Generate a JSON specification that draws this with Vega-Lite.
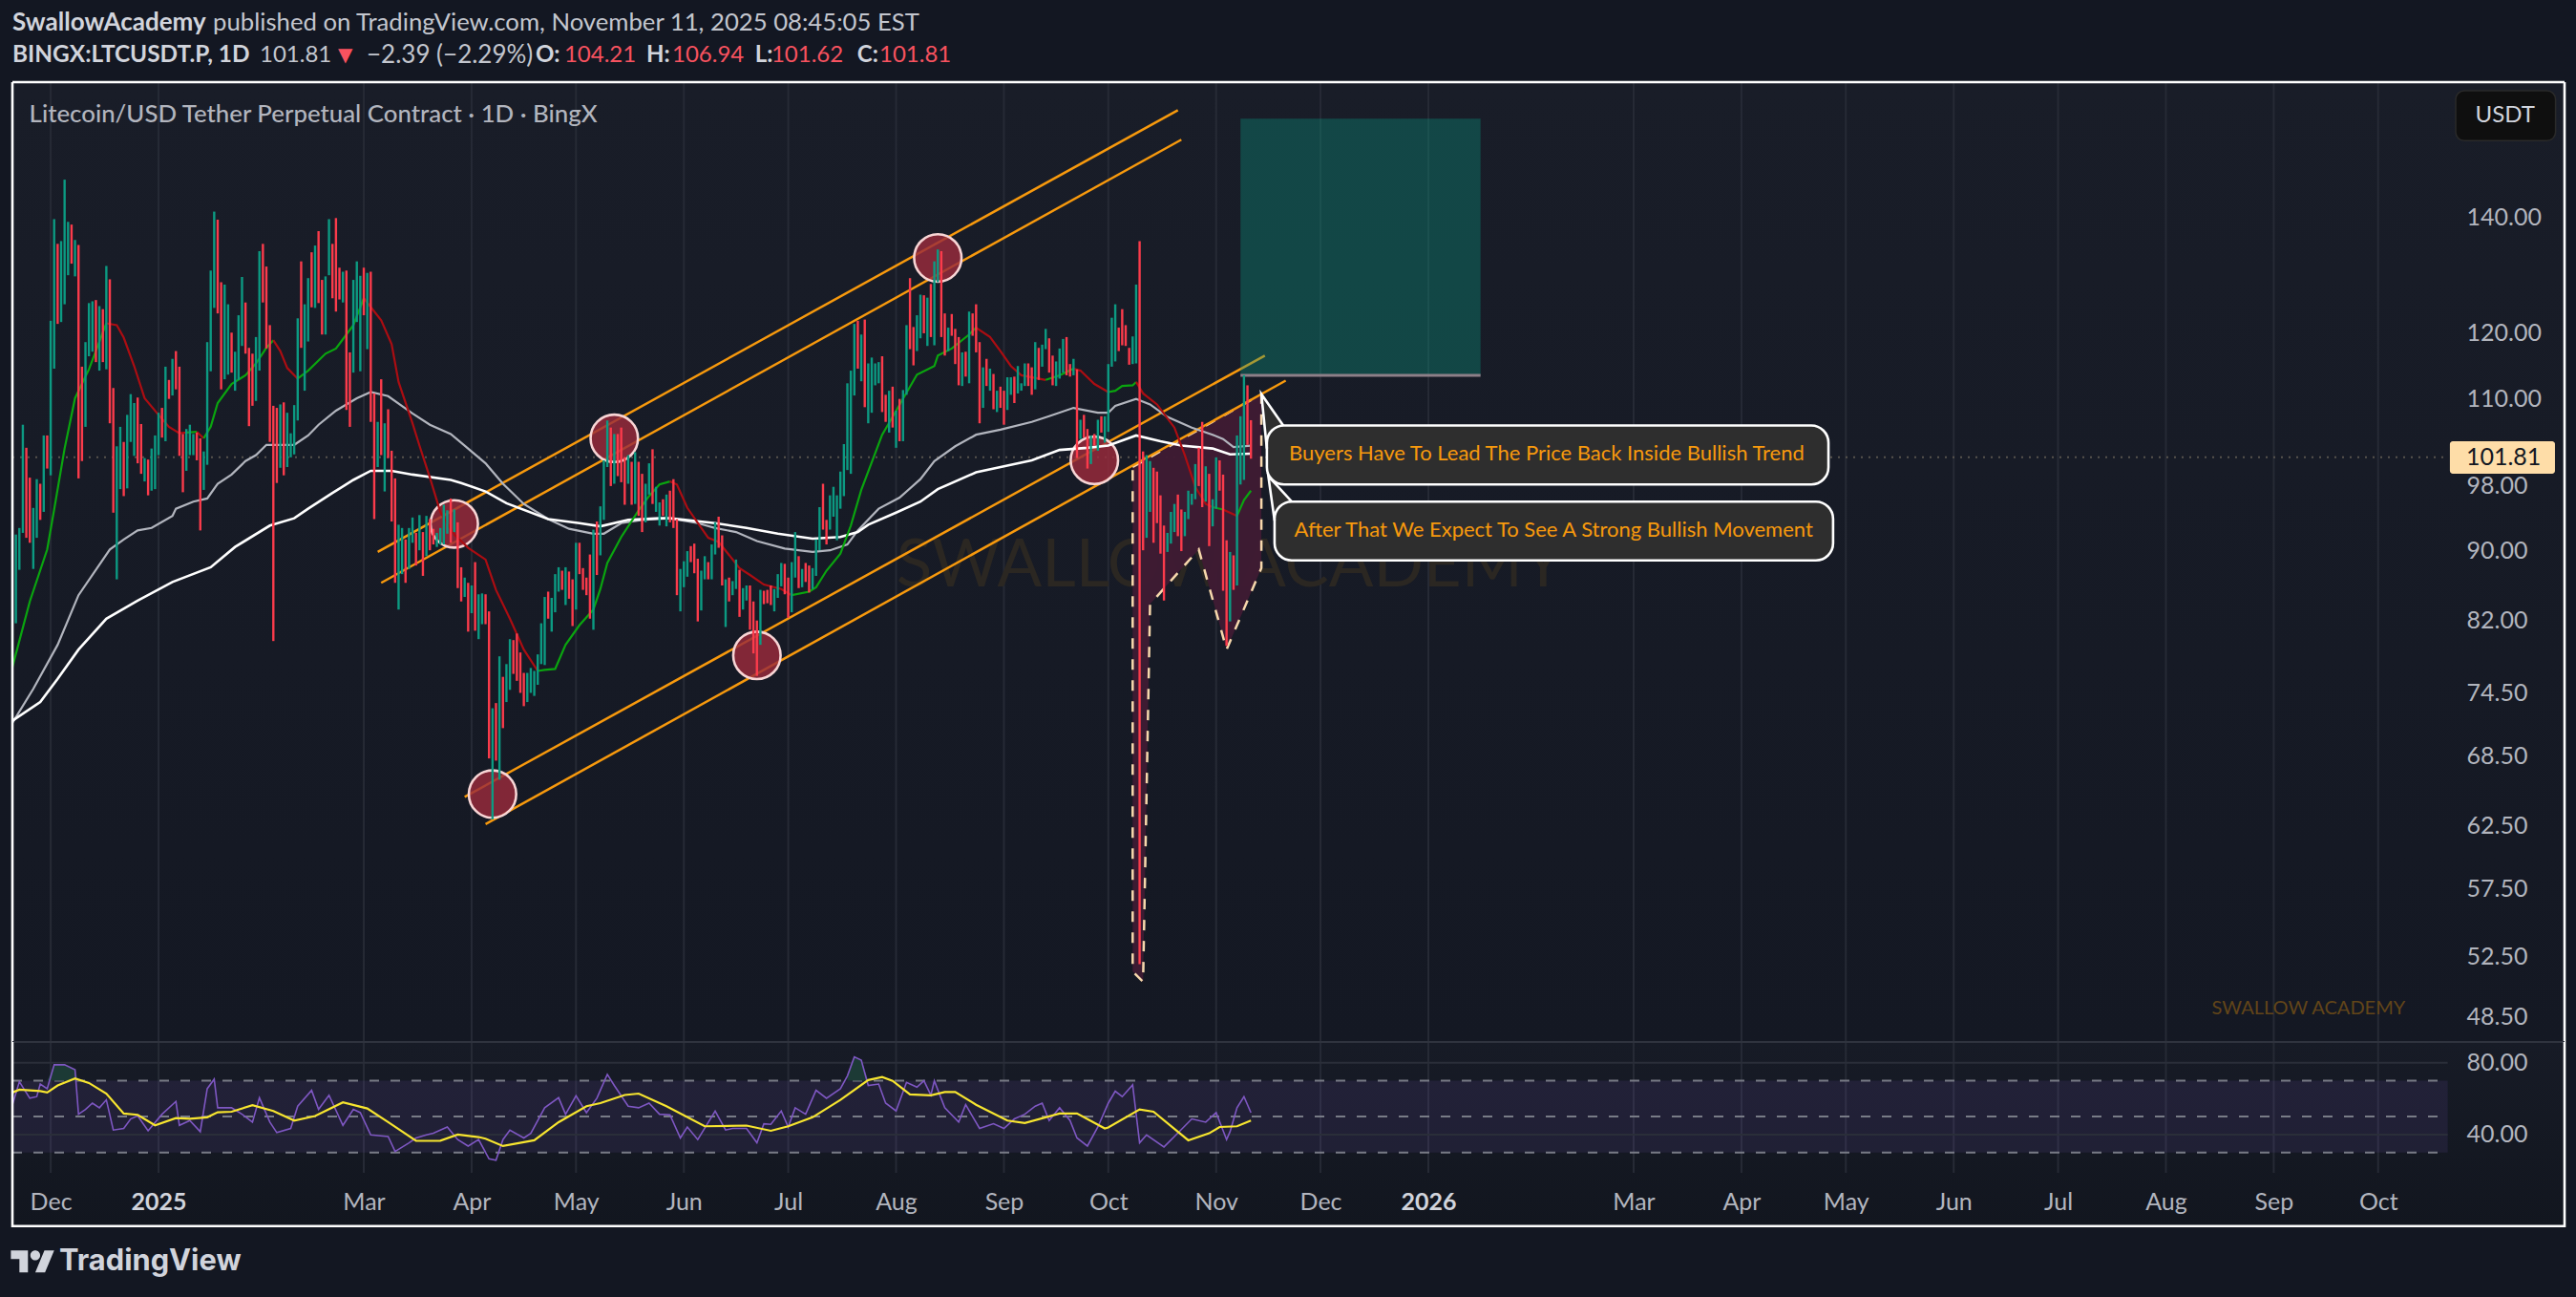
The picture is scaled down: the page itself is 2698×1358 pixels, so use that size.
{
  "$schema": "https://vega.github.io/schema/vega-lite/v6.json",
  "description": "LTCUSDT.P daily chart with RSI pane, rebuilt from a TradingView snapshot",
  "background": "#131722",
  "padding": {"left": 7, "right": 18, "top": 0, "bottom": 0},
  "spacing": 0,
  "bounds": "flush",
  "config": {
    "font": "Lato",
    "view": {"stroke": null},
    "axis": {"disable": true},
    "text": {"font": "Lato"}
  },
  "datasets": {
    "candles": [
      {"date":"2024-11-21","low":81.7,"high":91.9,"dir":"up"},{"date":"2024-11-22","low":87.7,"high":92.7,"dir":"up"},{"date":"2024-11-23","low":92.1,"high":106.3,"dir":"up"},{"date":"2024-11-24","low":91.5,"high":103.1,"dir":"down"},{"date":"2024-11-25","low":90.9,"high":99.1,"dir":"down"},{"date":"2024-11-26","low":87.8,"high":95.2,"dir":"up"},{"date":"2024-11-27","low":91.5,"high":98.9,"dir":"up"},{"date":"2024-11-28","low":93.7,"high":98.3,"dir":"down"},{"date":"2024-11-29","low":94.7,"high":104.8,"dir":"up"},{"date":"2024-11-30","low":100.3,"high":104.8,"dir":"down"},
      {"date":"2024-12-01","low":99.4,"high":122.0,"dir":"up"},{"date":"2024-12-02","low":114.5,"high":139.6,"dir":"up"},{"date":"2024-12-03","low":121.5,"high":135.1,"dir":"down"},{"date":"2024-12-04","low":121.8,"high":135.6,"dir":"up"},{"date":"2024-12-05","low":124.7,"high":147.1,"dir":"up"},{"date":"2024-12-06","low":129.6,"high":139.1,"dir":"up"},{"date":"2024-12-07","low":131.6,"high":138.6,"dir":"down"},{"date":"2024-12-08","low":129.4,"high":135.8,"dir":"up"},{"date":"2024-12-09","low":99.0,"high":134.9,"dir":"down"},{"date":"2024-12-10","low":101.3,"high":114.8,"dir":"down"},
      {"date":"2024-12-11","low":106.0,"high":118.6,"dir":"up"},{"date":"2024-12-12","low":116.4,"high":124.9,"dir":"up"},{"date":"2024-12-13","low":117.1,"high":125.2,"dir":"up"},{"date":"2024-12-14","low":115.5,"high":125.4,"dir":"down"},{"date":"2024-12-15","low":114.2,"high":124.4,"dir":"up"},{"date":"2024-12-16","low":115.5,"high":123.9,"dir":"down"},{"date":"2024-12-17","low":114.4,"high":131.2,"dir":"up"},{"date":"2024-12-18","low":106.5,"high":128.9,"dir":"down"},{"date":"2024-12-19","low":94.6,"high":111.6,"dir":"down"},{"date":"2024-12-20","low":86.6,"high":103.3,"dir":"up"},
      {"date":"2024-12-21","low":97.6,"high":106.0,"dir":"up"},{"date":"2024-12-22","low":96.7,"high":103.9,"dir":"down"},{"date":"2024-12-23","low":97.7,"high":107.7,"dir":"up"},{"date":"2024-12-24","low":103.9,"high":110.7,"dir":"up"},{"date":"2024-12-25","low":102.0,"high":109.4,"dir":"up"},{"date":"2024-12-26","low":101.0,"high":110.2,"dir":"down"},{"date":"2024-12-27","low":99.6,"high":106.4,"dir":"down"},{"date":"2024-12-28","low":98.6,"high":101.7,"dir":"up"},{"date":"2024-12-29","low":96.8,"high":101.5,"dir":"down"},{"date":"2024-12-30","low":97.4,"high":103.0,"dir":"up"},{"date":"2024-12-31","low":97.6,"high":104.8,"dir":"up"},
      {"date":"2025-01-01","low":102.1,"high":108.0,"dir":"up"},{"date":"2025-01-02","low":104.5,"high":108.7,"dir":"down"},{"date":"2025-01-03","low":104.0,"high":114.8,"dir":"up"},{"date":"2025-01-04","low":110.0,"high":112.8,"dir":"down"},{"date":"2025-01-05","low":110.5,"high":116.0,"dir":"up"},{"date":"2025-01-06","low":111.4,"high":117.2,"dir":"down"},{"date":"2025-01-07","low":102.0,"high":114.8,"dir":"down"},{"date":"2025-01-08","low":97.2,"high":105.0,"dir":"down"},{"date":"2025-01-09","low":100.0,"high":105.7,"dir":"up"},{"date":"2025-01-10","low":102.1,"high":106.3,"dir":"up"},
      {"date":"2025-01-11","low":102.1,"high":105.0,"dir":"up"},{"date":"2025-01-12","low":101.4,"high":105.2,"dir":"down"},{"date":"2025-01-13","low":92.4,"high":104.4,"dir":"down"},{"date":"2025-01-14","low":97.5,"high":102.6,"dir":"up"},{"date":"2025-01-15","low":100.8,"high":118.6,"dir":"up"},{"date":"2025-01-16","low":114.1,"high":130.4,"dir":"up"},{"date":"2025-01-17","low":124.1,"high":141.0,"dir":"up"},{"date":"2025-01-18","low":123.2,"high":139.5,"dir":"down"},{"date":"2025-01-19","low":111.4,"high":128.4,"dir":"down"},{"date":"2025-01-20","low":112.9,"high":128.0,"dir":"up"},
      {"date":"2025-01-21","low":113.6,"high":124.7,"dir":"up"},{"date":"2025-01-22","low":113.9,"high":120.1,"dir":"down"},{"date":"2025-01-23","low":111.2,"high":117.1,"dir":"up"},{"date":"2025-01-24","low":112.8,"high":122.9,"dir":"up"},{"date":"2025-01-25","low":118.0,"high":129.3,"dir":"up"},{"date":"2025-01-26","low":116.8,"high":125.0,"dir":"down"},{"date":"2025-01-27","low":106.1,"high":117.7,"dir":"down"},{"date":"2025-01-28","low":109.0,"high":116.8,"dir":"down"},{"date":"2025-01-29","low":109.7,"high":119.4,"dir":"up"},{"date":"2025-01-30","low":114.2,"high":133.8,"dir":"up"},{"date":"2025-01-31","low":125.0,"high":135.1,"dir":"down"},
      {"date":"2025-02-01","low":117.6,"high":131.1,"dir":"down"},{"date":"2025-02-02","low":103.9,"high":121.3,"dir":"down"},{"date":"2025-02-03","low":79.8,"high":109.0,"dir":"down"},{"date":"2025-02-04","low":98.4,"high":108.7,"dir":"down"},{"date":"2025-02-05","low":100.4,"high":109.2,"dir":"up"},{"date":"2025-02-06","low":99.4,"high":109.5,"dir":"down"},{"date":"2025-02-07","low":100.5,"high":108.0,"dir":"up"},{"date":"2025-02-08","low":101.8,"high":105.1,"dir":"up"},{"date":"2025-02-09","low":102.2,"high":109.1,"dir":"up"},{"date":"2025-02-10","low":106.9,"high":122.4,"dir":"up"},
      {"date":"2025-02-11","low":117.7,"high":132.0,"dir":"down"},{"date":"2025-02-12","low":111.2,"high":124.7,"dir":"up"},{"date":"2025-02-13","low":118.7,"high":129.1,"dir":"up"},{"date":"2025-02-14","low":124.2,"high":133.6,"dir":"down"},{"date":"2025-02-15","low":124.1,"high":134.8,"dir":"up"},{"date":"2025-02-16","low":124.9,"high":137.4,"dir":"down"},{"date":"2025-02-17","low":119.8,"high":128.8,"dir":"down"},{"date":"2025-02-18","low":119.8,"high":129.4,"dir":"up"},{"date":"2025-02-19","low":129.6,"high":139.6,"dir":"up"},{"date":"2025-02-20","low":125.7,"high":135.1,"dir":"down"},
      {"date":"2025-02-21","low":123.5,"high":139.8,"dir":"down"},{"date":"2025-02-22","low":125.5,"high":130.9,"dir":"down"},{"date":"2025-02-23","low":125.0,"high":130.2,"dir":"up"},{"date":"2025-02-24","low":108.4,"high":130.4,"dir":"down"},{"date":"2025-02-25","low":106.0,"high":117.0,"dir":"down"},{"date":"2025-02-26","low":113.9,"high":128.8,"dir":"up"},{"date":"2025-02-27","low":121.8,"high":132.0,"dir":"up"},{"date":"2025-02-28","low":114.1,"high":129.5,"dir":"up"},
      {"date":"2025-03-01","low":122.9,"high":130.9,"dir":"down"},{"date":"2025-03-02","low":117.5,"high":130.0,"dir":"up"},{"date":"2025-03-03","low":106.7,"high":130.2,"dir":"down"},{"date":"2025-03-04","low":93.8,"high":110.8,"dir":"down"},{"date":"2025-03-05","low":100.5,"high":106.7,"dir":"up"},{"date":"2025-03-06","low":102.1,"high":112.9,"dir":"down"},{"date":"2025-03-07","low":97.3,"high":106.5,"dir":"up"},{"date":"2025-03-08","low":101.7,"high":108.5,"dir":"down"},{"date":"2025-03-09","low":93.5,"high":102.7,"dir":"down"},{"date":"2025-03-10","low":86.2,"high":99.0,"dir":"down"},
      {"date":"2025-03-11","low":83.2,"high":93.1,"dir":"up"},{"date":"2025-03-12","low":87.2,"high":92.7,"dir":"up"},{"date":"2025-03-13","low":86.2,"high":91.3,"dir":"down"},{"date":"2025-03-14","low":87.8,"high":92.7,"dir":"up"},{"date":"2025-03-15","low":90.9,"high":94.0,"dir":"up"},{"date":"2025-03-16","low":88.2,"high":92.1,"dir":"down"},{"date":"2025-03-17","low":90.0,"high":94.3,"dir":"up"},{"date":"2025-03-18","low":87.0,"high":92.2,"dir":"down"},{"date":"2025-03-19","low":89.3,"high":94.2,"dir":"up"},{"date":"2025-03-20","low":90.0,"high":93.8,"dir":"down"},
      {"date":"2025-03-21","low":90.7,"high":92.6,"dir":"down"},{"date":"2025-03-22","low":90.4,"high":92.1,"dir":"up"},{"date":"2025-03-23","low":90.7,"high":92.7,"dir":"up"},{"date":"2025-03-24","low":90.7,"high":95.6,"dir":"up"},{"date":"2025-03-25","low":92.0,"high":94.9,"dir":"up"},{"date":"2025-03-26","low":90.9,"high":96.4,"dir":"down"},{"date":"2025-03-27","low":92.2,"high":95.0,"dir":"up"},{"date":"2025-03-28","low":85.6,"high":93.4,"dir":"down"},{"date":"2025-03-29","low":84.1,"high":88.0,"dir":"down"},{"date":"2025-03-30","low":84.6,"high":86.8,"dir":"up"},{"date":"2025-03-31","low":80.8,"high":86.2,"dir":"down"},
      {"date":"2025-04-01","low":82.8,"high":85.9,"dir":"up"},{"date":"2025-04-02","low":80.9,"high":88.6,"dir":"down"},{"date":"2025-04-03","low":80.0,"high":84.9,"dir":"up"},{"date":"2025-04-04","low":81.6,"high":85.0,"dir":"up"},{"date":"2025-04-05","low":81.6,"high":84.9,"dir":"down"},{"date":"2025-04-06","low":68.3,"high":83.0,"dir":"down"},{"date":"2025-04-07","low":63.0,"high":73.0,"dir":"up"},{"date":"2025-04-08","low":68.1,"high":73.5,"dir":"down"},{"date":"2025-04-09","low":66.4,"high":78.2,"dir":"up"},{"date":"2025-04-10","low":71.1,"high":76.1,"dir":"down"},
      {"date":"2025-04-11","low":73.6,"high":77.4,"dir":"up"},{"date":"2025-04-12","low":74.8,"high":80.0,"dir":"up"},{"date":"2025-04-13","low":76.4,"high":79.9,"dir":"down"},{"date":"2025-04-14","low":75.7,"high":80.6,"dir":"down"},{"date":"2025-04-15","low":74.5,"high":78.6,"dir":"down"},{"date":"2025-04-16","low":73.2,"high":76.5,"dir":"down"},{"date":"2025-04-17","low":73.6,"high":76.5,"dir":"up"},{"date":"2025-04-18","low":74.5,"high":77.0,"dir":"up"},{"date":"2025-04-19","low":74.2,"high":76.7,"dir":"up"},{"date":"2025-04-20","low":75.3,"high":78.4,"dir":"up"},
      {"date":"2025-04-21","low":77.4,"high":81.7,"dir":"up"},{"date":"2025-04-22","low":77.3,"high":84.6,"dir":"up"},{"date":"2025-04-23","low":82.2,"high":85.2,"dir":"down"},{"date":"2025-04-24","low":80.8,"high":84.5,"dir":"up"},{"date":"2025-04-25","low":82.9,"high":87.2,"dir":"up"},{"date":"2025-04-26","low":85.2,"high":88.0,"dir":"up"},{"date":"2025-04-27","low":85.4,"high":87.6,"dir":"down"},{"date":"2025-04-28","low":83.7,"high":88.0,"dir":"up"},{"date":"2025-04-29","low":84.4,"high":87.5,"dir":"down"},{"date":"2025-04-30","low":81.4,"high":86.6,"dir":"down"},
      {"date":"2025-05-01","low":83.2,"high":90.9,"dir":"up"},{"date":"2025-05-02","low":87.2,"high":90.9,"dir":"down"},{"date":"2025-05-03","low":85.4,"high":87.9,"dir":"down"},{"date":"2025-05-04","low":84.8,"high":86.8,"dir":"down"},{"date":"2025-05-05","low":82.2,"high":89.5,"dir":"down"},{"date":"2025-05-06","low":81.0,"high":92.5,"dir":"up"},{"date":"2025-05-07","low":87.1,"high":93.5,"dir":"down"},{"date":"2025-05-08","low":89.4,"high":95.4,"dir":"up"},{"date":"2025-05-09","low":93.7,"high":101.4,"dir":"up"},{"date":"2025-05-10","low":100.5,"high":106.9,"dir":"up"},
      {"date":"2025-05-11","low":98.0,"high":105.9,"dir":"down"},{"date":"2025-05-12","low":98.3,"high":105.0,"dir":"up"},{"date":"2025-05-13","low":99.3,"high":105.0,"dir":"down"},{"date":"2025-05-14","low":98.5,"high":105.9,"dir":"down"},{"date":"2025-05-15","low":95.6,"high":101.8,"dir":"down"},{"date":"2025-05-16","low":98.3,"high":102.1,"dir":"up"},{"date":"2025-05-17","low":95.6,"high":101.2,"dir":"down"},{"date":"2025-05-18","low":95.7,"high":102.5,"dir":"up"},{"date":"2025-05-19","low":94.2,"high":101.2,"dir":"down"},{"date":"2025-05-20","low":92.2,"high":99.6,"dir":"down"},
      {"date":"2025-05-21","low":93.4,"high":98.3,"dir":"up"},{"date":"2025-05-22","low":96.9,"high":101.0,"dir":"up"},{"date":"2025-05-23","low":95.7,"high":102.9,"dir":"down"},{"date":"2025-05-24","low":94.7,"high":97.9,"dir":"up"},{"date":"2025-05-25","low":93.0,"high":95.9,"dir":"up"},{"date":"2025-05-26","low":94.2,"high":96.3,"dir":"down"},{"date":"2025-05-27","low":92.9,"high":96.9,"dir":"up"},{"date":"2025-05-28","low":93.4,"high":97.4,"dir":"down"},{"date":"2025-05-29","low":92.7,"high":98.9,"dir":"down"},{"date":"2025-05-30","low":84.8,"high":93.8,"dir":"down"},{"date":"2025-05-31","low":83.0,"high":87.8,"dir":"up"},
      {"date":"2025-06-01","low":85.7,"high":88.7,"dir":"up"},{"date":"2025-06-02","low":86.9,"high":89.9,"dir":"up"},{"date":"2025-06-03","low":88.6,"high":90.5,"dir":"down"},{"date":"2025-06-04","low":87.3,"high":90.8,"dir":"down"},{"date":"2025-06-05","low":81.9,"high":89.0,"dir":"down"},{"date":"2025-06-06","low":83.1,"high":87.6,"dir":"up"},{"date":"2025-06-07","low":86.6,"high":89.3,"dir":"up"},{"date":"2025-06-08","low":86.6,"high":88.6,"dir":"down"},{"date":"2025-06-09","low":86.6,"high":90.7,"dir":"up"},{"date":"2025-06-10","low":89.5,"high":93.4,"dir":"up"},
      {"date":"2025-06-11","low":90.3,"high":94.1,"dir":"down"},{"date":"2025-06-12","low":85.9,"high":91.8,"dir":"down"},{"date":"2025-06-13","low":81.3,"high":86.6,"dir":"up"},{"date":"2025-06-14","low":84.1,"high":86.8,"dir":"down"},{"date":"2025-06-15","low":84.8,"high":86.4,"dir":"up"},{"date":"2025-06-16","low":85.5,"high":88.9,"dir":"up"},{"date":"2025-06-17","low":82.4,"high":87.7,"dir":"down"},{"date":"2025-06-18","low":83.2,"high":85.6,"dir":"up"},{"date":"2025-06-19","low":84.2,"high":85.9,"dir":"up"},{"date":"2025-06-20","low":81.0,"high":85.9,"dir":"down"},
      {"date":"2025-06-21","low":78.5,"high":84.1,"dir":"down"},{"date":"2025-06-22","low":76.2,"high":82.0,"dir":"down"},{"date":"2025-06-23","low":79.4,"high":85.4,"dir":"up"},{"date":"2025-06-24","low":83.8,"high":85.3,"dir":"down"},{"date":"2025-06-25","low":83.9,"high":85.4,"dir":"down"},{"date":"2025-06-26","low":83.7,"high":85.9,"dir":"down"},{"date":"2025-06-27","low":83.0,"high":85.5,"dir":"up"},{"date":"2025-06-28","low":84.5,"high":87.2,"dir":"up"},{"date":"2025-06-29","low":85.8,"high":88.5,"dir":"up"},{"date":"2025-06-30","low":84.9,"high":88.4,"dir":"down"},
      {"date":"2025-07-01","low":82.3,"high":86.8,"dir":"down"},{"date":"2025-07-02","low":82.9,"high":88.6,"dir":"up"},{"date":"2025-07-03","low":86.8,"high":92.2,"dir":"up"},{"date":"2025-07-04","low":85.6,"high":89.3,"dir":"down"},{"date":"2025-07-05","low":85.7,"high":87.8,"dir":"up"},{"date":"2025-07-06","low":86.3,"high":88.5,"dir":"down"},{"date":"2025-07-07","low":85.1,"high":88.2,"dir":"down"},{"date":"2025-07-08","low":85.5,"high":87.9,"dir":"up"},{"date":"2025-07-09","low":87.0,"high":91.3,"dir":"up"},{"date":"2025-07-10","low":90.0,"high":95.3,"dir":"up"},
      {"date":"2025-07-11","low":92.5,"high":98.3,"dir":"down"},{"date":"2025-07-12","low":90.7,"high":93.7,"dir":"down"},{"date":"2025-07-13","low":92.5,"high":96.8,"dir":"up"},{"date":"2025-07-14","low":94.1,"high":97.9,"dir":"up"},{"date":"2025-07-15","low":91.2,"high":96.8,"dir":"up"},{"date":"2025-07-16","low":95.1,"high":99.9,"dir":"up"},{"date":"2025-07-17","low":96.7,"high":103.6,"dir":"up"},{"date":"2025-07-18","low":100.1,"high":112.3,"dir":"up"},{"date":"2025-07-19","low":99.6,"high":114.2,"dir":"up"},{"date":"2025-07-20","low":110.5,"high":121.5,"dir":"up"},
      {"date":"2025-07-21","low":114.5,"high":122.0,"dir":"down"},{"date":"2025-07-22","low":112.6,"high":119.8,"dir":"up"},{"date":"2025-07-23","low":108.8,"high":122.2,"dir":"down"},{"date":"2025-07-24","low":106.5,"high":115.3,"dir":"up"},{"date":"2025-07-25","low":108.0,"high":116.2,"dir":"up"},{"date":"2025-07-26","low":112.0,"high":115.3,"dir":"up"},{"date":"2025-07-27","low":112.3,"high":115.5,"dir":"up"},{"date":"2025-07-28","low":108.1,"high":116.4,"dir":"down"},{"date":"2025-07-29","low":106.7,"high":110.6,"dir":"down"},{"date":"2025-07-30","low":105.2,"high":111.2,"dir":"up"},{"date":"2025-07-31","low":105.9,"high":111.8,"dir":"down"},
      {"date":"2025-08-01","low":103.1,"high":108.3,"dir":"up"},{"date":"2025-08-02","low":104.0,"high":110.0,"dir":"down"},{"date":"2025-08-03","low":104.0,"high":111.3,"dir":"up"},{"date":"2025-08-04","low":110.6,"high":121.3,"dir":"up"},{"date":"2025-08-05","low":117.5,"high":129.1,"dir":"down"},{"date":"2025-08-06","low":115.0,"high":121.0,"dir":"down"},{"date":"2025-08-07","low":117.2,"high":122.9,"dir":"up"},{"date":"2025-08-08","low":119.2,"high":126.3,"dir":"up"},{"date":"2025-08-09","low":120.0,"high":126.2,"dir":"down"},{"date":"2025-08-10","low":118.0,"high":125.8,"dir":"up"},
      {"date":"2025-08-11","low":119.4,"high":128.1,"dir":"down"},{"date":"2025-08-12","low":118.1,"high":132.0,"dir":"up"},{"date":"2025-08-13","low":128.4,"high":134.1,"dir":"up"},{"date":"2025-08-14","low":119.4,"high":133.8,"dir":"down"},{"date":"2025-08-15","low":116.5,"high":123.2,"dir":"down"},{"date":"2025-08-16","low":117.2,"high":120.9,"dir":"up"},{"date":"2025-08-17","low":119.6,"high":123.1,"dir":"down"},{"date":"2025-08-18","low":115.2,"high":120.7,"dir":"down"},{"date":"2025-08-19","low":112.0,"high":119.4,"dir":"down"},{"date":"2025-08-20","low":111.9,"high":117.0,"dir":"up"},
      {"date":"2025-08-21","low":113.3,"high":117.1,"dir":"down"},{"date":"2025-08-22","low":112.3,"high":123.5,"dir":"up"},{"date":"2025-08-23","low":119.6,"high":123.2,"dir":"down"},{"date":"2025-08-24","low":117.0,"high":124.7,"dir":"down"},{"date":"2025-08-25","low":106.5,"high":118.6,"dir":"down"},{"date":"2025-08-26","low":108.7,"high":114.7,"dir":"up"},{"date":"2025-08-27","low":111.9,"high":116.0,"dir":"down"},{"date":"2025-08-28","low":111.2,"high":114.5,"dir":"up"},{"date":"2025-08-29","low":108.5,"high":113.7,"dir":"down"},{"date":"2025-08-30","low":108.1,"high":111.2,"dir":"up"},{"date":"2025-08-31","low":108.7,"high":111.8,"dir":"down"},
      {"date":"2025-09-01","low":106.3,"high":111.2,"dir":"down"},{"date":"2025-09-02","low":108.4,"high":113.2,"dir":"up"},{"date":"2025-09-03","low":110.6,"high":113.2,"dir":"up"},{"date":"2025-09-04","low":109.4,"high":113.3,"dir":"down"},{"date":"2025-09-05","low":110.8,"high":114.9,"dir":"up"},{"date":"2025-09-06","low":111.2,"high":112.3,"dir":"up"},{"date":"2025-09-07","low":111.9,"high":115.3,"dir":"up"},{"date":"2025-09-08","low":111.9,"high":115.3,"dir":"down"},{"date":"2025-09-09","low":110.6,"high":114.7,"dir":"down"},{"date":"2025-09-10","low":111.4,"high":118.6,"dir":"up"},
      {"date":"2025-09-11","low":112.8,"high":117.7,"dir":"down"},{"date":"2025-09-12","low":114.8,"high":118.2,"dir":"up"},{"date":"2025-09-13","low":117.5,"high":120.7,"dir":"up"},{"date":"2025-09-14","low":113.9,"high":119.2,"dir":"down"},{"date":"2025-09-15","low":112.0,"high":116.5,"dir":"down"},{"date":"2025-09-16","low":111.9,"high":115.6,"dir":"up"},{"date":"2025-09-17","low":113.0,"high":117.6,"dir":"up"},{"date":"2025-09-18","low":113.9,"high":119.1,"dir":"up"},{"date":"2025-09-19","low":113.5,"high":119.4,"dir":"down"},{"date":"2025-09-20","low":113.3,"high":115.2,"dir":"down"},
      {"date":"2025-09-21","low":113.5,"high":116.0,"dir":"up"},{"date":"2025-09-22","low":101.7,"high":114.4,"dir":"down"},{"date":"2025-09-23","low":104.3,"high":107.0,"dir":"up"},{"date":"2025-09-24","low":104.5,"high":107.7,"dir":"down"},{"date":"2025-09-25","low":100.3,"high":105.7,"dir":"down"},{"date":"2025-09-26","low":100.9,"high":104.8,"dir":"up"},{"date":"2025-09-27","low":103.4,"high":105.0,"dir":"down"},{"date":"2025-09-28","low":102.7,"high":107.0,"dir":"up"},{"date":"2025-09-29","low":105.2,"high":107.5,"dir":"down"},{"date":"2025-09-30","low":103.8,"high":107.5,"dir":"up"},
      {"date":"2025-10-01","low":105.3,"high":115.2,"dir":"up"},{"date":"2025-10-02","low":114.8,"high":122.5,"dir":"up"},{"date":"2025-10-03","low":115.6,"high":124.7,"dir":"up"},{"date":"2025-10-04","low":117.2,"high":120.9,"dir":"down"},{"date":"2025-10-05","low":118.1,"high":123.9,"dir":"down"},{"date":"2025-10-06","low":118.0,"high":121.3,"dir":"down"},{"date":"2025-10-07","low":115.1,"high":117.7,"dir":"down"},{"date":"2025-10-08","low":115.2,"high":119.5,"dir":"up"},{"date":"2025-10-09","low":115.3,"high":128.0,"dir":"up"},{"date":"2025-10-10","low":52.0,"high":135.6,"dir":"down"},
      {"date":"2025-10-11","low":90.0,"high":102.6,"dir":"down"},{"date":"2025-10-12","low":91.5,"high":102.1,"dir":"up"},{"date":"2025-10-13","low":94.7,"high":101.3,"dir":"up"},{"date":"2025-10-14","low":90.9,"high":100.4,"dir":"down"},{"date":"2025-10-15","low":93.3,"high":99.9,"dir":"down"},{"date":"2025-10-16","low":89.6,"high":96.8,"dir":"down"},{"date":"2025-10-17","low":84.2,"high":93.0,"dir":"down"},{"date":"2025-10-18","low":89.8,"high":92.1,"dir":"up"},{"date":"2025-10-19","low":90.8,"high":94.7,"dir":"up"},{"date":"2025-10-20","low":92.2,"high":95.7,"dir":"up"},
      {"date":"2025-10-21","low":91.7,"high":96.9,"dir":"down"},{"date":"2025-10-22","low":89.9,"high":95.0,"dir":"down"},{"date":"2025-10-23","low":91.7,"high":94.7,"dir":"up"},{"date":"2025-10-24","low":93.8,"high":97.4,"dir":"up"},{"date":"2025-10-25","low":95.6,"high":97.0,"dir":"up"},{"date":"2025-10-26","low":96.3,"high":100.9,"dir":"up"},{"date":"2025-10-27","low":98.0,"high":103.1,"dir":"down"},{"date":"2025-10-28","low":95.3,"high":106.7,"dir":"down"},{"date":"2025-10-29","low":96.0,"high":100.6,"dir":"up"},{"date":"2025-10-30","low":90.5,"high":99.6,"dir":"down"},{"date":"2025-10-31","low":92.9,"high":96.3,"dir":"up"},
      {"date":"2025-11-01","low":95.1,"high":101.8,"dir":"up"},{"date":"2025-11-02","low":97.4,"high":101.4,"dir":"down"},{"date":"2025-11-03","low":85.3,"high":99.5,"dir":"down"},{"date":"2025-11-04","low":79.3,"high":91.2,"dir":"down"},{"date":"2025-11-05","low":81.9,"high":89.8,"dir":"up"},{"date":"2025-11-06","low":85.4,"high":89.4,"dir":"down"},{"date":"2025-11-07","low":85.9,"high":104.8,"dir":"up"},{"date":"2025-11-08","low":98.2,"high":107.5,"dir":"up"},{"date":"2025-11-09","low":98.8,"high":113.5,"dir":"up"},{"date":"2025-11-10","low":103.5,"high":112.0,"dir":"down"},{"date":"2025-11-11","low":101.62,"high":106.94,"dir":"down"}
    ],
    "ema": [
      {"date":"2024-11-20","price":77.1,"seg":1,"dir":"up"},{"date":"2024-11-25","price":84.1,"seg":1,"dir":"up"},{"date":"2024-11-30","price":90.1,"seg":1,"dir":"up"},{"date":"2024-12-02","price":95.0,"seg":1,"dir":"up"},{"date":"2024-12-05","price":103.0,"seg":1,"dir":"up"},{"date":"2024-12-08","price":110.1,"seg":1,"dir":"up"},{"date":"2024-12-12","price":114.4,"seg":1,"dir":"up"},{"date":"2024-12-17","price":121.6,"seg":1,"dir":"up"},
      {"date":"2024-12-17","price":121.6,"seg":2,"dir":"down"},{"date":"2024-12-20","price":121.3,"seg":2,"dir":"down"},{"date":"2024-12-22","price":119.3,"seg":2,"dir":"down"},{"date":"2024-12-25","price":114.9,"seg":2,"dir":"down"},{"date":"2024-12-28","price":110.1,"seg":2,"dir":"down"},{"date":"2025-01-01","price":107.7,"seg":2,"dir":"down"},{"date":"2025-01-04","price":106.0,"seg":2,"dir":"down"},{"date":"2025-01-07","price":105.1,"seg":2,"dir":"down"},{"date":"2025-01-09","price":105.2,"seg":2,"dir":"down"},
      {"date":"2025-01-09","price":105.2,"seg":3,"dir":"up"},{"date":"2025-01-12","price":105.3,"seg":3,"dir":"up"},
      {"date":"2025-01-12","price":105.3,"seg":4,"dir":"down"},{"date":"2025-01-14","price":104.4,"seg":4,"dir":"down"},
      {"date":"2025-01-14","price":104.4,"seg":5,"dir":"up"},{"date":"2025-01-16","price":106.0,"seg":5,"dir":"up"},{"date":"2025-01-18","price":109.4,"seg":5,"dir":"up"},{"date":"2025-01-22","price":112.2,"seg":5,"dir":"up"},{"date":"2025-01-26","price":113.5,"seg":5,"dir":"up"},{"date":"2025-01-29","price":115.3,"seg":5,"dir":"up"},{"date":"2025-02-01","price":117.7,"seg":5,"dir":"up"},{"date":"2025-02-03","price":118.9,"seg":5,"dir":"up"},
      {"date":"2025-02-03","price":118.9,"seg":6,"dir":"down"},{"date":"2025-02-05","price":117.2,"seg":6,"dir":"down"},{"date":"2025-02-07","price":114.6,"seg":6,"dir":"down"},{"date":"2025-02-10","price":113.0,"seg":6,"dir":"down"},
      {"date":"2025-02-10","price":113.0,"seg":7,"dir":"up"},{"date":"2025-02-13","price":114.2,"seg":7,"dir":"up"},{"date":"2025-02-18","price":116.8,"seg":7,"dir":"up"},{"date":"2025-02-21","price":117.6,"seg":7,"dir":"up"},{"date":"2025-02-24","price":119.8,"seg":7,"dir":"up"},{"date":"2025-02-26","price":121.3,"seg":7,"dir":"up"},{"date":"2025-03-01","price":125.7,"seg":7,"dir":"up"},
      {"date":"2025-03-01","price":125.7,"seg":8,"dir":"down"},{"date":"2025-03-06","price":122.1,"seg":8,"dir":"down"},{"date":"2025-03-09","price":118.3,"seg":8,"dir":"down"},{"date":"2025-03-11","price":112.5,"seg":8,"dir":"down"},{"date":"2025-03-15","price":106.5,"seg":8,"dir":"down"},{"date":"2025-03-17","price":103.4,"seg":8,"dir":"down"},{"date":"2025-03-20","price":99.1,"seg":8,"dir":"down"},{"date":"2025-03-23","price":94.7,"seg":8,"dir":"down"},{"date":"2025-03-27","price":91.9,"seg":8,"dir":"down"},{"date":"2025-03-31","price":90.3,"seg":8,"dir":"down"},{"date":"2025-04-05","price":88.9,"seg":8,"dir":"down"},{"date":"2025-04-08","price":85.4,"seg":8,"dir":"down"},{"date":"2025-04-12","price":82.2,"seg":8,"dir":"down"},{"date":"2025-04-16","price":78.9,"seg":8,"dir":"down"},{"date":"2025-04-20","price":76.7,"seg":8,"dir":"down"},
      {"date":"2025-04-20","price":76.7,"seg":9,"dir":"up"},{"date":"2025-04-22","price":76.8,"seg":9,"dir":"up"},{"date":"2025-04-25","price":76.9,"seg":9,"dir":"up"},{"date":"2025-04-28","price":79.4,"seg":9,"dir":"up"},{"date":"2025-05-02","price":81.5,"seg":9,"dir":"up"},{"date":"2025-05-06","price":83.2,"seg":9,"dir":"up"},{"date":"2025-05-08","price":85.5,"seg":9,"dir":"up"},{"date":"2025-05-10","price":88.5,"seg":9,"dir":"up"},{"date":"2025-05-14","price":91.6,"seg":9,"dir":"up"},{"date":"2025-05-19","price":94.9,"seg":9,"dir":"up"},{"date":"2025-05-22","price":96.7,"seg":9,"dir":"up"},{"date":"2025-05-25","price":98.2,"seg":9,"dir":"up"},{"date":"2025-05-28","price":98.6,"seg":9,"dir":"up"},
      {"date":"2025-05-28","price":98.6,"seg":10,"dir":"down"},{"date":"2025-05-30","price":98.2,"seg":10,"dir":"down"},{"date":"2025-06-02","price":95.2,"seg":10,"dir":"down"},{"date":"2025-06-08","price":91.5,"seg":10,"dir":"down"},{"date":"2025-06-11","price":91.0,"seg":10,"dir":"down"},{"date":"2025-06-17","price":87.9,"seg":10,"dir":"down"},{"date":"2025-06-20","price":87.1,"seg":10,"dir":"down"},{"date":"2025-06-24","price":86.0,"seg":10,"dir":"down"},{"date":"2025-06-29","price":85.5,"seg":10,"dir":"down"},{"date":"2025-07-02","price":84.8,"seg":10,"dir":"down"},
      {"date":"2025-07-02","price":84.8,"seg":11,"dir":"up"},{"date":"2025-07-07","price":85.2,"seg":11,"dir":"up"},{"date":"2025-07-09","price":85.7,"seg":11,"dir":"up"},{"date":"2025-07-12","price":87.6,"seg":11,"dir":"up"},{"date":"2025-07-16","price":89.6,"seg":11,"dir":"up"},{"date":"2025-07-19","price":93.0,"seg":11,"dir":"up"},{"date":"2025-07-22","price":97.5,"seg":11,"dir":"up"},{"date":"2025-07-28","price":104.9,"seg":11,"dir":"up"},{"date":"2025-07-31","price":107.4,"seg":11,"dir":"up"},{"date":"2025-08-07","price":113.6,"seg":11,"dir":"up"},{"date":"2025-08-12","price":114.9,"seg":11,"dir":"up"},{"date":"2025-08-13","price":116.5,"seg":11,"dir":"up"},{"date":"2025-08-17","price":117.6,"seg":11,"dir":"up"},{"date":"2025-08-22","price":119.8,"seg":11,"dir":"up"},{"date":"2025-08-24","price":120.9,"seg":11,"dir":"up"},
      {"date":"2025-08-24","price":120.9,"seg":12,"dir":"down"},{"date":"2025-08-28","price":119.4,"seg":12,"dir":"down"},{"date":"2025-08-31","price":117.2,"seg":12,"dir":"down"},{"date":"2025-09-03","price":114.9,"seg":12,"dir":"down"},{"date":"2025-09-06","price":113.5,"seg":12,"dir":"down"},{"date":"2025-09-13","price":112.8,"seg":12,"dir":"down"},
      {"date":"2025-09-13","price":112.8,"seg":13,"dir":"up"},{"date":"2025-09-17","price":113.5,"seg":13,"dir":"up"},{"date":"2025-09-21","price":114.5,"seg":13,"dir":"up"},
      {"date":"2025-09-21","price":114.5,"seg":14,"dir":"down"},{"date":"2025-09-23","price":114.2,"seg":14,"dir":"down"},{"date":"2025-09-27","price":112.2,"seg":14,"dir":"down"},{"date":"2025-10-01","price":111.0,"seg":14,"dir":"down"},
      {"date":"2025-10-01","price":111.0,"seg":15,"dir":"up"},{"date":"2025-10-03","price":111.2,"seg":15,"dir":"up"},{"date":"2025-10-05","price":111.9,"seg":15,"dir":"up"},{"date":"2025-10-08","price":112.0,"seg":15,"dir":"up"},{"date":"2025-10-09","price":112.5,"seg":15,"dir":"up"},
      {"date":"2025-10-09","price":112.5,"seg":16,"dir":"down"},{"date":"2025-10-11","price":110.8,"seg":16,"dir":"down"},{"date":"2025-10-15","price":109.2,"seg":16,"dir":"down"},{"date":"2025-10-20","price":105.9,"seg":16,"dir":"down"},{"date":"2025-10-23","price":102.1,"seg":16,"dir":"down"},{"date":"2025-10-26","price":97.9,"seg":16,"dir":"down"},{"date":"2025-10-29","price":95.7,"seg":16,"dir":"down"},{"date":"2025-10-31","price":95.3,"seg":16,"dir":"down"},
      {"date":"2025-10-31","price":95.3,"seg":17,"dir":"up"},{"date":"2025-11-03","price":95.0,"seg":17,"dir":"up"},
      {"date":"2025-11-03","price":95.0,"seg":18,"dir":"down"},{"date":"2025-11-07","price":94.2,"seg":18,"dir":"down"},
      {"date":"2025-11-07","price":94.2,"seg":19,"dir":"up"},{"date":"2025-11-09","price":96.2,"seg":19,"dir":"up"},{"date":"2025-11-11","price":97.4,"seg":19,"dir":"up"}
    ],
    "maGray": [
      {"date":"2024-11-20","price":71.6},{"date":"2024-11-26","price":74.9},{"date":"2024-12-03","price":79.4},{"date":"2024-12-09","price":84.8},{"date":"2024-12-18","price":90.1},{"date":"2024-12-22","price":91.3},{"date":"2024-12-26","price":92.4},{"date":"2024-12-30","price":92.7},{"date":"2025-01-05","price":94.2},{"date":"2025-01-06","price":95.1},{"date":"2025-01-11","price":96.0},{"date":"2025-01-15","price":96.4},{"date":"2025-01-18","price":98.3},{"date":"2025-01-22","price":99.5},{"date":"2025-01-26","price":101.3},{"date":"2025-01-29","price":102.1},{"date":"2025-02-01","price":103.5},{"date":"2025-02-09","price":103.5},{"date":"2025-02-13","price":104.8},{"date":"2025-02-16","price":106.3},{"date":"2025-02-21","price":108.3},{"date":"2025-02-27","price":110.1},{"date":"2025-03-03","price":111.0},{"date":"2025-03-08","price":110.4},{"date":"2025-03-15","price":107.9},{"date":"2025-03-20","price":106.3},{"date":"2025-03-26","price":105.0},{"date":"2025-03-30","price":103.4},{"date":"2025-04-05","price":101.0},{"date":"2025-04-10","price":98.3},{"date":"2025-04-16","price":95.7},{"date":"2025-04-23","price":93.8},{"date":"2025-04-29","price":92.6},{"date":"2025-05-06","price":92.0},{"date":"2025-05-09","price":92.0},{"date":"2025-05-14","price":93.3},{"date":"2025-05-20","price":93.7},{"date":"2025-05-28","price":93.9},{"date":"2025-06-05","price":93.3},{"date":"2025-06-10","price":92.7},{"date":"2025-06-16","price":92.2},{"date":"2025-06-22","price":91.1},{"date":"2025-06-30","price":90.2},{"date":"2025-07-08","price":89.8},{"date":"2025-07-13","price":90.0},{"date":"2025-07-18","price":90.7},{"date":"2025-07-21","price":92.4},{"date":"2025-07-27","price":95.1},{"date":"2025-08-02","price":96.5},{"date":"2025-08-08","price":98.9},{"date":"2025-08-12","price":101.3},{"date":"2025-08-18","price":103.3},{"date":"2025-08-24","price":104.9},{"date":"2025-08-31","price":105.6},{"date":"2025-09-09","price":106.7},{"date":"2025-09-14","price":107.5},{"date":"2025-09-21","price":108.7},{"date":"2025-09-28","price":108.0},{"date":"2025-10-01","price":108.0},{"date":"2025-10-03","price":109.0},{"date":"2025-10-09","price":110.0},{"date":"2025-10-13","price":109.2},{"date":"2025-10-18","price":107.4},{"date":"2025-10-25","price":105.9},{"date":"2025-10-31","price":104.9},{"date":"2025-11-03","price":104.3},{"date":"2025-11-06","price":103.2},{"date":"2025-11-11","price":103.4}
    ],
    "maWhite": [
      {"date":"2024-11-20","price":71.8},{"date":"2024-11-28","price":73.6},{"date":"2024-12-03","price":75.9},{"date":"2024-12-09","price":78.9},{"date":"2024-12-17","price":82.2},{"date":"2024-12-26","price":84.2},{"date":"2025-01-05","price":86.3},{"date":"2025-01-16","price":88.0},{"date":"2025-01-23","price":90.4},{"date":"2025-02-02","price":93.0},{"date":"2025-02-09","price":93.9},{"date":"2025-02-13","price":95.1},{"date":"2025-02-20","price":97.1},{"date":"2025-02-26","price":98.8},{"date":"2025-03-03","price":100.0},{"date":"2025-03-09","price":100.0},{"date":"2025-03-15","price":99.5},{"date":"2025-03-26","price":98.8},{"date":"2025-03-29","price":98.4},{"date":"2025-04-05","price":97.3},{"date":"2025-04-11","price":95.8},{"date":"2025-04-23","price":93.8},{"date":"2025-05-02","price":93.3},{"date":"2025-05-08","price":92.9},{"date":"2025-05-16","price":93.7},{"date":"2025-05-25","price":93.9},{"date":"2025-05-28","price":93.9},{"date":"2025-06-10","price":93.3},{"date":"2025-06-19","price":92.7},{"date":"2025-06-28","price":92.0},{"date":"2025-07-08","price":91.4},{"date":"2025-07-16","price":91.6},{"date":"2025-07-21","price":92.2},{"date":"2025-07-24","price":93.1},{"date":"2025-08-01","price":94.6},{"date":"2025-08-08","price":96.0},{"date":"2025-08-13","price":97.6},{"date":"2025-08-24","price":99.8},{"date":"2025-09-01","price":100.6},{"date":"2025-09-09","price":101.4},{"date":"2025-09-17","price":102.8},{"date":"2025-09-25","price":103.1},{"date":"2025-10-01","price":103.4},{"date":"2025-10-09","price":104.8},{"date":"2025-10-16","price":104.0},{"date":"2025-10-22","price":103.4},{"date":"2025-10-31","price":103.0},{"date":"2025-11-05","price":102.2},{"date":"2025-11-11","price":102.3}
    ],
    "rsi": [
      {"date":"2024-11-20","price":56.6},{"date":"2024-11-22","price":69.4},{"date":"2024-11-25","price":60.2},{"date":"2024-11-27","price":61.1},{"date":"2024-11-28","price":68.1},{"date":"2024-11-30","price":65.5},{"date":"2024-12-02","price":78.8},{"date":"2024-12-05","price":78.8},{"date":"2024-12-08","price":76.1},{"date":"2024-12-09","price":51.3},{"date":"2024-12-11","price":54.0},{"date":"2024-12-13","price":57.5},{"date":"2024-12-15","price":54.9},{"date":"2024-12-17","price":59.3},{"date":"2024-12-19","price":42.5},{"date":"2024-12-22","price":43.4},{"date":"2024-12-24","price":48.7},{"date":"2024-12-26","price":50.4},{"date":"2024-12-29","price":42.1},{"date":"2025-01-02","price":51.3},{"date":"2025-01-06","price":58.4},{"date":"2025-01-07","price":45.1},{"date":"2025-01-10","price":47.8},{"date":"2025-01-13","price":41.6},{"date":"2025-01-15","price":65.5},{"date":"2025-01-17","price":70.8},{"date":"2025-01-18","price":54.9},{"date":"2025-01-22","price":54.9},{"date":"2025-01-25","price":51.3},{"date":"2025-01-28","price":46.9},{"date":"2025-01-30","price":60.5},{"date":"2025-02-02","price":46.9},{"date":"2025-02-04","price":41.1},{"date":"2025-02-08","price":43.4},{"date":"2025-02-10","price":55.8},{"date":"2025-02-14","price":64.6},{"date":"2025-02-16","price":54.0},{"date":"2025-02-19","price":61.9},{"date":"2025-02-23","price":45.1},{"date":"2025-02-26","price":54.0},{"date":"2025-02-28","price":52.2},{"date":"2025-03-03","price":39.8},{"date":"2025-03-08","price":38.9},{"date":"2025-03-10","price":30.6},{"date":"2025-03-14","price":35.4},{"date":"2025-03-16","price":38.1},{"date":"2025-03-19","price":39.8},{"date":"2025-03-21","price":40.7},{"date":"2025-03-25","price":44.2},{"date":"2025-03-28","price":37.2},{"date":"2025-03-31","price":33.6},{"date":"2025-04-03","price":37.2},{"date":"2025-04-06","price":26.5},{"date":"2025-04-08","price":25.7},{"date":"2025-04-10","price":37.2},{"date":"2025-04-12","price":42.5},{"date":"2025-04-16","price":38.1},{"date":"2025-04-18","price":40.7},{"date":"2025-04-22","price":54.9},{"date":"2025-04-26","price":60.5},{"date":"2025-04-28","price":51.3},{"date":"2025-05-01","price":61.6},{"date":"2025-05-04","price":52.2},{"date":"2025-05-07","price":60.2},{"date":"2025-05-10","price":73.5},{"date":"2025-05-12","price":67.3},{"date":"2025-05-16","price":55.8},{"date":"2025-05-19","price":54.9},{"date":"2025-05-22","price":57.5},{"date":"2025-05-25","price":51.3},{"date":"2025-05-28","price":51.0},{"date":"2025-05-31","price":38.1},{"date":"2025-06-02","price":44.2},{"date":"2025-06-05","price":37.2},{"date":"2025-06-10","price":53.1},{"date":"2025-06-13","price":42.5},{"date":"2025-06-15","price":43.4},{"date":"2025-06-19","price":43.4},{"date":"2025-06-22","price":35.4},{"date":"2025-06-24","price":46.0},{"date":"2025-06-26","price":45.7},{"date":"2025-06-29","price":53.1},{"date":"2025-07-01","price":44.2},{"date":"2025-07-03","price":54.9},{"date":"2025-07-06","price":51.3},{"date":"2025-07-09","price":64.6},{"date":"2025-07-12","price":60.2},{"date":"2025-07-16","price":65.5},{"date":"2025-07-18","price":72.6},{"date":"2025-07-20","price":83.2},{"date":"2025-07-22","price":81.4},{"date":"2025-07-24","price":67.3},{"date":"2025-07-27","price":68.1},{"date":"2025-07-29","price":57.5},{"date":"2025-08-01","price":53.1},{"date":"2025-08-04","price":69.0},{"date":"2025-08-07","price":66.4},{"date":"2025-08-09","price":69.9},{"date":"2025-08-11","price":61.9},{"date":"2025-08-12","price":69.9},{"date":"2025-08-15","price":54.9},{"date":"2025-08-19","price":46.9},{"date":"2025-08-21","price":56.6},{"date":"2025-08-25","price":43.4},{"date":"2025-08-29","price":46.0},{"date":"2025-09-01","price":43.4},{"date":"2025-09-04","price":48.7},{"date":"2025-09-07","price":51.3},{"date":"2025-09-10","price":55.8},{"date":"2025-09-12","price":57.5},{"date":"2025-09-14","price":47.8},{"date":"2025-09-17","price":54.9},{"date":"2025-09-20","price":47.8},{"date":"2025-09-22","price":38.1},{"date":"2025-09-25","price":33.6},{"date":"2025-09-28","price":44.2},{"date":"2025-10-01","price":57.5},{"date":"2025-10-03","price":64.1},{"date":"2025-10-05","price":61.1},{"date":"2025-10-08","price":67.6},{"date":"2025-10-10","price":35.4},{"date":"2025-10-12","price":39.8},{"date":"2025-10-17","price":33.1},{"date":"2025-10-20","price":38.9},{"date":"2025-10-25","price":48.7},{"date":"2025-10-29","price":46.9},{"date":"2025-11-01","price":52.2},{"date":"2025-11-04","price":37.2},{"date":"2025-11-05","price":41.6},{"date":"2025-11-07","price":54.9},{"date":"2025-11-09","price":61.1},{"date":"2025-11-11","price":52.2}
    ],
    "rsiMa": [
      {"date":"2024-11-20","price":63.4},{"date":"2024-11-22","price":65.0},{"date":"2024-11-28","price":64.2},{"date":"2024-11-30","price":63.4},{"date":"2024-12-03","price":67.3},{"date":"2024-12-08","price":71.2},{"date":"2024-12-12","price":68.7},{"date":"2024-12-17","price":62.8},{"date":"2024-12-22","price":51.7},{"date":"2024-12-26","price":51.0},{"date":"2024-12-31","price":45.1},{"date":"2025-01-06","price":49.2},{"date":"2025-01-10","price":48.8},{"date":"2025-01-15","price":49.6},{"date":"2025-01-18","price":52.4},{"date":"2025-01-22","price":52.7},{"date":"2025-01-28","price":56.3},{"date":"2025-02-03","price":53.1},{"date":"2025-02-09","price":47.8},{"date":"2025-02-15","price":50.3},{"date":"2025-02-23","price":57.9},{"date":"2025-03-02","price":54.5},{"date":"2025-03-08","price":46.9},{"date":"2025-03-16","price":36.5},{"date":"2025-03-23","price":36.6},{"date":"2025-03-28","price":40.0},{"date":"2025-04-03","price":38.6},{"date":"2025-04-05","price":37.7},{"date":"2025-04-10","price":33.6},{"date":"2025-04-19","price":36.8},{"date":"2025-04-26","price":46.9},{"date":"2025-05-04","price":55.8},{"date":"2025-05-08","price":57.5},{"date":"2025-05-15","price":62.0},{"date":"2025-05-19","price":62.8},{"date":"2025-05-27","price":55.8},{"date":"2025-06-07","price":44.6},{"date":"2025-06-19","price":45.0},{"date":"2025-06-26","price":42.1},{"date":"2025-07-01","price":44.6},{"date":"2025-07-08","price":49.6},{"date":"2025-07-16","price":59.3},{"date":"2025-07-24","price":70.3},{"date":"2025-07-28","price":72.0},{"date":"2025-07-31","price":69.9},{"date":"2025-08-05","price":62.3},{"date":"2025-08-11","price":61.8},{"date":"2025-08-15","price":63.7},{"date":"2025-08-18","price":63.7},{"date":"2025-08-24","price":56.6},{"date":"2025-09-02","price":47.8},{"date":"2025-09-07","price":46.4},{"date":"2025-09-17","price":51.7},{"date":"2025-09-22","price":51.7},{"date":"2025-09-30","price":43.4},{"date":"2025-10-01","price":43.9},{"date":"2025-10-10","price":54.0},{"date":"2025-10-14","price":52.7},{"date":"2025-10-24","price":36.8},{"date":"2025-10-30","price":40.7},{"date":"2025-11-02","price":44.2},{"date":"2025-11-07","price":44.6},{"date":"2025-11-11","price":47.8}
    ],
    "months": [
      {"date":"2024-12-01"},{"date":"2025-01-01"},{"date":"2025-03-01"},{"date":"2025-04-01"},{"date":"2025-05-01"},{"date":"2025-06-01"},{"date":"2025-07-01"},{"date":"2025-08-01"},{"date":"2025-09-01"},{"date":"2025-10-01"},{"date":"2025-11-01"},{"date":"2025-12-01"},{"date":"2026-01-01"},{"date":"2026-03-01"},{"date":"2026-04-01"},{"date":"2026-05-01"},{"date":"2026-06-01"},{"date":"2026-07-01"},{"date":"2026-08-01"},{"date":"2026-09-01"},{"date":"2026-10-01"}
    ],
    "edges": [{"date":"2024-11-20"},{"date":"2026-11-23T14:00:00Z"}]
  },
  "vconcat": [
    {
      "width": 2673,
      "height": 86,
      "data": {"values": [{}]},
      "layer": [
        {"mark": {"type": "text", "text": "SwallowAcademy", "align": "left", "fontSize": 26, "fontWeight": "bold", "color": "#d1d4dc"}, "encoding": {"x": {"datum": 0, "type": "quantitative", "scale": {"domain": [0, 100], "nice": false}}, "y": {"datum": 0.28, "type": "quantitative", "scale": {"domain": [1, 0], "nice": false}}}},
        {"mark": {"type": "text", "text": "published on TradingView.com, November 11, 2025 08:45:05 EST", "align": "left", "fontSize": 25.7, "color": "#c3c6ce"}, "encoding": {"x": {"datum": 7.86}, "y": {"datum": 0.28}}},
        {"mark": {"type": "text", "text": "BINGX:LTCUSDT.P, 1D", "align": "left", "fontSize": 24.4, "fontWeight": "bold", "color": "#d1d4dc"}, "encoding": {"x": {"datum": 0}, "y": {"datum": 0.67}}},
        {"mark": {"type": "text", "text": "101.81", "align": "left", "fontSize": 24, "color": "#c3c6ce"}, "encoding": {"x": {"datum": 9.69}, "y": {"datum": 0.67}}},
        {"mark": {"type": "text", "text": "▼", "align": "left", "fontSize": 20, "font": "DejaVu Sans", "color": "#f7525f"}, "encoding": {"x": {"datum": 12.76}, "y": {"datum": 0.67}}},
        {"mark": {"type": "text", "text": "−2.39 (−2.29%)", "align": "left", "fontSize": 26, "color": "#c3c6ce"}, "encoding": {"x": {"datum": 13.88}, "y": {"datum": 0.67}}},
        {"mark": {"type": "text", "text": "O:", "align": "left", "fontSize": 24, "fontWeight": "bold", "color": "#d1d4dc"}, "encoding": {"x": {"datum": 20.5}, "y": {"datum": 0.67}}},
        {"mark": {"type": "text", "text": "104.21", "align": "left", "fontSize": 24, "color": "#f7525f"}, "encoding": {"x": {"datum": 21.62}, "y": {"datum": 0.67}}},
        {"mark": {"type": "text", "text": "H:", "align": "left", "fontSize": 24, "fontWeight": "bold", "color": "#d1d4dc"}, "encoding": {"x": {"datum": 24.84}, "y": {"datum": 0.67}}},
        {"mark": {"type": "text", "text": "106.94", "align": "left", "fontSize": 24, "color": "#f7525f"}, "encoding": {"x": {"datum": 25.85}, "y": {"datum": 0.67}}},
        {"mark": {"type": "text", "text": "L:", "align": "left", "fontSize": 24, "fontWeight": "bold", "color": "#d1d4dc"}, "encoding": {"x": {"datum": 29.1}, "y": {"datum": 0.67}}},
        {"mark": {"type": "text", "text": "101.62", "align": "left", "fontSize": 24, "color": "#f7525f"}, "encoding": {"x": {"datum": 29.74}, "y": {"datum": 0.67}}},
        {"mark": {"type": "text", "text": "C:", "align": "left", "fontSize": 24, "fontWeight": "bold", "color": "#d1d4dc"}, "encoding": {"x": {"datum": 33.1}, "y": {"datum": 0.67}}},
        {"mark": {"type": "text", "text": "101.81", "align": "left", "fontSize": 24, "color": "#f7525f"}, "encoding": {"x": {"datum": 33.97}, "y": {"datum": 0.67}}}
      ]
    },
    {
      "width": 2673,
      "height": 1005,
      "view": {"fill": {"gradient": "linear", "x1": 0, "y1": 0, "x2": 0, "y2": 1, "stops": [{"offset": 0, "color": "#191d28"}, {"offset": 1, "color": "#141823"}]}},
      "resolve": {"scale": {"color": "independent"}},
      "encoding": {
        "x": {"field": "date", "type": "temporal", "scale": {"type": "utc", "nice": false, "domain": [{"year": 2024, "month": 11, "date": 20, "utc": true}, {"year": 2026, "month": 11, "date": 23, "hours": 14, "utc": true}]}},
        "y": {"field": "price", "type": "quantitative", "scale": {"type": "log", "nice": false, "domain": [46.9, 167.4]}, "axis": {"disable": false, "orient": "right", "title": null, "offset": -103, "domain": false, "ticks": false, "tickSize": 0, "grid": false, "labelPadding": 0, "labelFontSize": 25, "labelColor": "#b2b5be", "labelOverlap": false, "labelBound": false, "labelFlush": false, "format": ".2f", "values": [140, 120, 110, 98, 90, 82, 74.5, 68.5, 62.5, 57.5, 52.5, 48.5]}}
      },
      "layer": [
        {"data": {"values": [{"price":140},{"price":120},{"price":110},{"price":98},{"price":90},{"price":82},{"price":74.5},{"price":68.5},{"price":62.5},{"price":57.5},{"price":52.5},{"price":48.5}]}, "transform": [{"calculate": "'2024-11-20'", "as": "date"}, {"calculate": "'2026-10-21'", "as": "date2"}], "mark": {"type": "rule", "color": "#262a35", "strokeWidth": 2}, "encoding": {"x2": {"field": "date2"}}},
        {"data": {"name": "months"}, "transform": [{"calculate": "167.4", "as": "price"}, {"calculate": "46.9", "as": "price2"}], "mark": {"type": "rule", "color": "#262a35", "strokeWidth": 2}, "encoding": {"y2": {"field": "price2"}}},
        {"data": {"values": [{"date":"2025-11-05","price":88.1,"label":"SWALLOW ACADEMY"}]}, "mark": {"type": "text", "fontSize": 69, "align": "center", "baseline": "middle", "color": "#2b2722"}, "encoding": {"text": {"field": "label"}}},
        {"data": {"values": [{"date":"2026-09-11","price":49.0,"label":"SWALLOW ACADEMY"}]}, "mark": {"type": "text", "fontSize": 20, "align": "center", "baseline": "middle", "color": "#624519"}, "encoding": {"text": {"field": "label"}}},
        {"data": {"values": [{"date":"2024-11-24T20:00:00Z","price":160.3,"label":"Litecoin/USD Tether Perpetual Contract · 1D · BingX"}]}, "mark": {"type": "text", "fontSize": 25.8, "fontWeight": 500, "align": "left", "baseline": "middle", "color": "#b2b5be"}, "encoding": {"text": {"field": "label"}}},
        {"data": {"values": [{"date":"2024-11-20","date2":"2026-10-21","price":101.81}]}, "mark": {"type": "rule", "color": "#57534d", "strokeWidth": 2, "strokeDash": [2, 6]}, "encoding": {"x2": {"field": "date2"}}},
        {"data": {"values": [{"date":"2025-10-08","price":100.5,"price2":51.5},{"date":"2025-10-11","price":101.3,"price2":50.8},{"date":"2025-10-13","price":101.9,"price2":83.8},{"date":"2025-10-27","price":105.6,"price2":90.1},{"date":"2025-11-04","price":107.9,"price2":78.9},{"date":"2025-11-14","price":110.7,"price2":87.9}]}, "mark": {"type": "area", "color": "#3f1b33", "opacity": 0.96}, "encoding": {"y2": {"field": "price2"}}},
        {"data": {"values": [{"step":1,"date":"2025-10-08","price":100.5},{"step":2,"date":"2025-11-14","price":110.7},{"step":3,"date":"2025-11-14","price":87.9},{"step":4,"date":"2025-11-04","price":78.9},{"step":5,"date":"2025-10-27","price":90.1},{"step":6,"date":"2025-10-13","price":83.8},{"step":7,"date":"2025-10-11","price":50.8},{"step":8,"date":"2025-10-08","price":51.5},{"step":9,"date":"2025-10-08","price":100.5}]}, "mark": {"type": "line", "color": "#f7d8ac", "strokeWidth": 2.5, "strokeDash": [11, 11]}, "encoding": {"order": {"field": "step", "type": "quantitative"}}},
        {"data": {"values": [{"line":"a","date":"2025-03-05","price":89.8},{"line":"a","date":"2025-10-21","price":161.3},{"line":"b","date":"2025-03-06","price":86.2},{"line":"b","date":"2025-10-22","price":155.1},{"line":"c","date":"2025-03-30","price":64.9},{"line":"c","date":"2025-11-15","price":116.5},{"line":"d","date":"2025-04-05","price":62.6},{"line":"d","date":"2025-11-21","price":112.7}]}, "mark": {"type": "line", "color": "#f7990d", "strokeWidth": 2.5}, "encoding": {"detail": {"field": "line"}}},
        {"data": {"values": [{"date":"2025-11-08","date2":"2026-01-16","price":159.5,"price2":113.5}]}, "mark": {"type": "rect", "color": "#089981", "opacity": 0.35}, "encoding": {"x2": {"field": "date2"}, "y2": {"field": "price2"}}},
        {"data": {"values": [{"date":"2025-11-08","date2":"2026-01-16","price":113.5}]}, "mark": {"type": "rule", "color": "#8d7f88", "strokeWidth": 3}, "encoding": {"x2": {"field": "date2"}}},
        {"data": {"values": [{"date":"2025-04-07","price":65.15},{"date":"2025-03-27","price":93.2},{"date":"2025-05-12","price":104.4},{"date":"2025-06-22","price":78.3},{"date":"2025-08-13","price":132.6},{"date":"2025-09-27","price":101.4}]}, "mark": {"type": "point", "shape": "circle", "filled": true, "size": 2463, "opacity": 1, "fill": "#9a2b3c", "fillOpacity": 0.82, "stroke": "#f8d5d5", "strokeWidth": 2.6}},
        {"data": {"name": "maGray"}, "mark": {"type": "line", "color": "#b2b5be", "strokeWidth": 2.2}},
        {"data": {"name": "maWhite"}, "mark": {"type": "line", "color": "#ffffff", "strokeWidth": 2.6}},
        {"data": {"name": "ema"}, "mark": {"type": "line", "strokeWidth": 2.2}, "encoding": {"detail": {"field": "seg"}, "color": {"field": "dir", "type": "nominal", "legend": null, "scale": {"domain": ["up", "down"], "range": ["#0aa50f", "#ab0d12"]}}}},
        {"data": {"name": "candles"}, "mark": {"type": "rule", "strokeWidth": 2.4}, "encoding": {"y": {"field": "low", "type": "quantitative"}, "y2": {"field": "high"}, "color": {"field": "dir", "type": "nominal", "legend": null, "scale": {"domain": ["up", "down"], "range": ["#0c9a82", "#fb3b4b"]}}}},
        {"data": {"values": [{"date":"2025-11-16T00:00:00Z","price":99.3,"price2":99.3},{"date":"2025-11-17T19:00:00Z","price":98.2,"price2":93.6},{"date":"2025-11-22T17:00:00Z","price":96.0,"price2":93.6}]}, "mark": {"type": "area", "color": "#2e2e2e"}, "encoding": {"y2": {"field": "price2"}}},
        {"data": {"values": [{"date":"2025-11-17T19:00:00Z","date2":"2026-04-27T08:00:00Z","price":96.0,"price2":88.8}]}, "mark": {"type": "rect", "cornerRadius": 18, "fill": "#2e2e2e", "stroke": "#ffffff", "strokeWidth": 2.6}, "encoding": {"x2": {"field": "date2"}, "y2": {"field": "price2"}}},
        {"data": {"values": [{"step":1,"date":"2025-11-22T17:00:00Z","price":96.0},{"step":2,"date":"2025-11-16T00:00:00Z","price":99.3},{"step":3,"date":"2025-11-17T19:00:00Z","price":93.6}]}, "mark": {"type": "line", "color": "#ffffff", "strokeWidth": 2.6}, "encoding": {"order": {"field": "step", "type": "quantitative"}}},
        {"data": {"values": [{"date":"2025-11-14T00:00:00Z","price":110.7,"price2":110.7},{"date":"2025-11-15T14:00:00Z","price":109.1,"price2":103.0},{"date":"2025-11-20T07:00:00Z","price":106.2,"price2":103.0}]}, "mark": {"type": "area", "color": "#2e2e2e"}, "encoding": {"y2": {"field": "price2"}}},
        {"data": {"values": [{"date":"2025-11-15T14:00:00Z","date2":"2026-04-26T00:00:00Z","price":106.2,"price2":98.2}]}, "mark": {"type": "rect", "cornerRadius": 18, "fill": "#2e2e2e", "stroke": "#ffffff", "strokeWidth": 2.6}, "encoding": {"x2": {"field": "date2"}, "y2": {"field": "price2"}}},
        {"data": {"values": [{"step":1,"date":"2025-11-20T07:00:00Z","price":106.2},{"step":2,"date":"2025-11-14T00:00:00Z","price":110.7},{"step":3,"date":"2025-11-15T14:00:00Z","price":103.0}]}, "mark": {"type": "line", "color": "#ffffff", "strokeWidth": 2.6}, "encoding": {"order": {"field": "step", "type": "quantitative"}}},
        {"data": {"values": [{"date":"2026-02-04","price":102.3,"label":"Buyers Have To Lead The Price Back Inside Bullish Trend"},{"date":"2026-02-06","price":92.4,"label":"After That We Expect To See A Strong Bullish Movement"}]}, "mark": {"type": "text", "fontSize": 22, "align": "center", "baseline": "middle", "color": "#f7990d"}, "encoding": {"text": {"field": "label"}}},
        {"data": {"values": [{"date":"2026-10-23T07:00:00Z","date2":"2026-11-21T00:00:00Z","price":165.5,"price2":154.9}]}, "mark": {"type": "rect", "cornerRadius": 9, "fill": "#0f0f0f", "stroke": "#2a2a2a", "strokeWidth": 1.5}, "encoding": {"x2": {"field": "date2"}, "y2": {"field": "price2"}}},
        {"data": {"values": [{"date":"2026-11-06T12:00:00Z","price":160.2,"label":"USDT"}]}, "mark": {"type": "text", "fontSize": 24, "align": "center", "baseline": "middle", "color": "#d1d4dc"}, "encoding": {"text": {"field": "label"}}},
        {"data": {"values": [{"date":"2026-10-21T15:00:00Z","date2":"2026-11-20T20:00:00Z","price":104.0,"price2":99.6}]}, "mark": {"type": "rect", "cornerRadius": 3, "fill": "#fedda8"}, "encoding": {"x2": {"field": "date2"}, "y2": {"field": "price2"}}},
        {"data": {"values": [{"date":"2026-10-26T07:00:00Z","price":101.81,"label":"101.81"}]}, "mark": {"type": "text", "fontSize": 25, "align": "left", "baseline": "middle", "color": "#131722"}, "encoding": {"text": {"field": "label"}}},
        {"data": {"values": [{"date":"2024-11-20","date2":"2026-11-23T14:00:00Z","price":167.4}]}, "mark": {"type": "rule", "color": "#ffffff", "strokeWidth": 2.6}, "encoding": {"x2": {"field": "date2"}}},
        {"data": {"name": "edges"}, "transform": [{"calculate": "167.4", "as": "price"}, {"calculate": "46.9", "as": "price2"}], "mark": {"type": "rule", "color": "#ffffff", "strokeWidth": 2.6}, "encoding": {"y2": {"field": "price2"}}}
      ]
    },
    {
      "width": 2673,
      "height": 194,
      "view": {"fill": {"gradient": "linear", "x1": 0, "y1": 0, "x2": 0, "y2": 1, "stops": [{"offset": 0, "color": "#171b26"}, {"offset": 1, "color": "#12161f"}]}},
      "encoding": {
        "x": {"field": "date", "type": "temporal", "scale": {"type": "utc", "nice": false, "domain": [{"year": 2024, "month": 11, "date": 20, "utc": true}, {"year": 2026, "month": 11, "date": 23, "hours": 14, "utc": true}]}, "axis": {"disable": false, "orient": "bottom", "title": null, "offset": -27, "domain": false, "ticks": false, "tickSize": 0, "grid": false, "labelPadding": 0, "labelBaseline": "middle", "labelFontSize": 25, "labelColor": {"condition": {"test": "utcmonth(datum.value) == 0", "value": "#d1d4dc"}, "value": "#b2b5be"}, "labelFontWeight": {"condition": {"test": "utcmonth(datum.value) == 0", "value": "bold"}, "value": "normal"}, "labelOverlap": false, "labelBound": false, "labelFlush": false, "labelExpr": "utcmonth(datum.value) == 0 ? utcyear(datum.value) : utcFormat(datum.value, '%b')", "values": [{"year":2024,"month":12,"date":1,"utc":true},{"year":2025,"month":1,"date":1,"utc":true},{"year":2025,"month":3,"date":1,"utc":true},{"year":2025,"month":4,"date":1,"utc":true},{"year":2025,"month":5,"date":1,"utc":true},{"year":2025,"month":6,"date":1,"utc":true},{"year":2025,"month":7,"date":1,"utc":true},{"year":2025,"month":8,"date":1,"utc":true},{"year":2025,"month":9,"date":1,"utc":true},{"year":2025,"month":10,"date":1,"utc":true},{"year":2025,"month":11,"date":1,"utc":true},{"year":2025,"month":12,"date":1,"utc":true},{"year":2026,"month":1,"date":1,"utc":true},{"year":2026,"month":3,"date":1,"utc":true},{"year":2026,"month":4,"date":1,"utc":true},{"year":2026,"month":5,"date":1,"utc":true},{"year":2026,"month":6,"date":1,"utc":true},{"year":2026,"month":7,"date":1,"utc":true},{"year":2026,"month":8,"date":1,"utc":true},{"year":2026,"month":9,"date":1,"utc":true},{"year":2026,"month":10,"date":1,"utc":true}]}},
        "y": {"field": "price", "type": "quantitative", "scale": {"nice": false, "zero": false, "domain": [-11.6, 91.5]}, "axis": {"disable": false, "orient": "right", "title": null, "offset": -103, "domain": false, "ticks": false, "tickSize": 0, "grid": false, "labelPadding": 0, "labelFontSize": 25, "labelColor": "#b2b5be", "labelOverlap": false, "labelBound": false, "labelFlush": false, "format": ".2f", "values": [80, 40]}}
      },
      "layer": [
        {"data": {"name": "months"}, "transform": [{"calculate": "91.5", "as": "price"}, {"calculate": "18.7", "as": "price2"}], "mark": {"type": "rule", "color": "#262a35", "strokeWidth": 2}, "encoding": {"y2": {"field": "price2"}}},
        {"data": {"values": [{"date":"2024-11-20","date2":"2026-10-21","price":70,"price2":30}]}, "mark": {"type": "rect", "color": "#7e57c2", "opacity": 0.12}, "encoding": {"x2": {"field": "date2"}, "y2": {"field": "price2"}}},
        {"data": {"values": [{"date":"2024-11-20","date2":"2026-10-21","price":80},{"date":"2024-11-20","date2":"2026-10-21","price":40}]}, "mark": {"type": "rule", "color": "#2a2e39", "strokeWidth": 2}, "encoding": {"x2": {"field": "date2"}}},
        {"data": {"values": [{"date":"2024-11-20","date2":"2026-10-21","price":70},{"date":"2024-11-20","date2":"2026-10-21","price":50},{"date":"2024-11-20","date2":"2026-10-21","price":30}]}, "mark": {"type": "rule", "color": "#787b86", "strokeWidth": 2, "strokeDash": [10, 12]}, "encoding": {"x2": {"field": "date2"}}},
        {"data": {"values": [{"peak":1,"date":"2024-11-30","price":70,"price2":70},{"peak":1,"date":"2024-12-02","price":78.8,"price2":70},{"peak":1,"date":"2024-12-05","price":78.8,"price2":70},{"peak":1,"date":"2024-12-08","price":76.1,"price2":70},{"peak":1,"date":"2024-12-09","price":70,"price2":70},{"peak":2,"date":"2025-07-18","price":72.6,"price2":70},{"peak":2,"date":"2025-07-20","price":83.2,"price2":70},{"peak":2,"date":"2025-07-22","price":81.4,"price2":70},{"peak":2,"date":"2025-07-24","price":70,"price2":70}]}, "mark": {"type": "area", "color": "#1c3a35"}, "encoding": {"y2": {"field": "price2"}, "detail": {"field": "peak"}}},
        {"data": {"name": "rsi"}, "mark": {"type": "line", "color": "#7e57c2", "strokeWidth": 1.6}},
        {"data": {"name": "rsiMa"}, "mark": {"type": "line", "color": "#f7e52f", "strokeWidth": 2.2}},
        {"data": {"values": [{"date":"2024-11-20","date2":"2026-11-23T14:00:00Z","price":91.5}]}, "mark": {"type": "rule", "color": "#2f333e", "strokeWidth": 2}, "encoding": {"x2": {"field": "date2"}}},
        {"data": {"values": [{"date":"2024-11-20","date2":"2026-11-23T14:00:00Z","price":-10.9}]}, "mark": {"type": "rule", "color": "#ffffff", "strokeWidth": 2.6}, "encoding": {"x2": {"field": "date2"}}},
        {"data": {"name": "edges"}, "transform": [{"calculate": "91.5", "as": "price"}, {"calculate": "-11.6", "as": "price2"}], "mark": {"type": "rule", "color": "#ffffff", "strokeWidth": 2.6}, "encoding": {"y2": {"field": "price2"}}}
      ]
    },
    {
      "width": 2673,
      "height": 73,
      "data": {"values": [{}]},
      "layer": [
        {"mark": {"type": "point", "filled": true, "opacity": 1, "color": "#d1d4dc", "size": 2116, "shape": "M-0.222 0.5H-0.611V-0.111H-1V-0.5H-0.222ZM0.556 0.5H0.111L0.528 -0.5H0.972ZM-0.111 -0.278a0.222 0.222 0 1 0 0.444 0a0.222 0.222 0 1 0 -0.444 0Z"}, "encoding": {"x": {"datum": 0.8, "type": "quantitative", "scale": {"domain": [0, 100], "nice": false}}, "y": {"datum": 0.49, "type": "quantitative", "scale": {"domain": [1, 0], "nice": false}}}},
        {"mark": {"type": "text", "text": "TradingView", "align": "left", "baseline": "middle", "fontSize": 30.8, "font": "Inter", "fontWeight": "bold", "color": "#d1d4dc"}, "encoding": {"x": {"datum": 1.83}, "y": {"datum": 0.49}}}
      ]
    }
  ]
}
